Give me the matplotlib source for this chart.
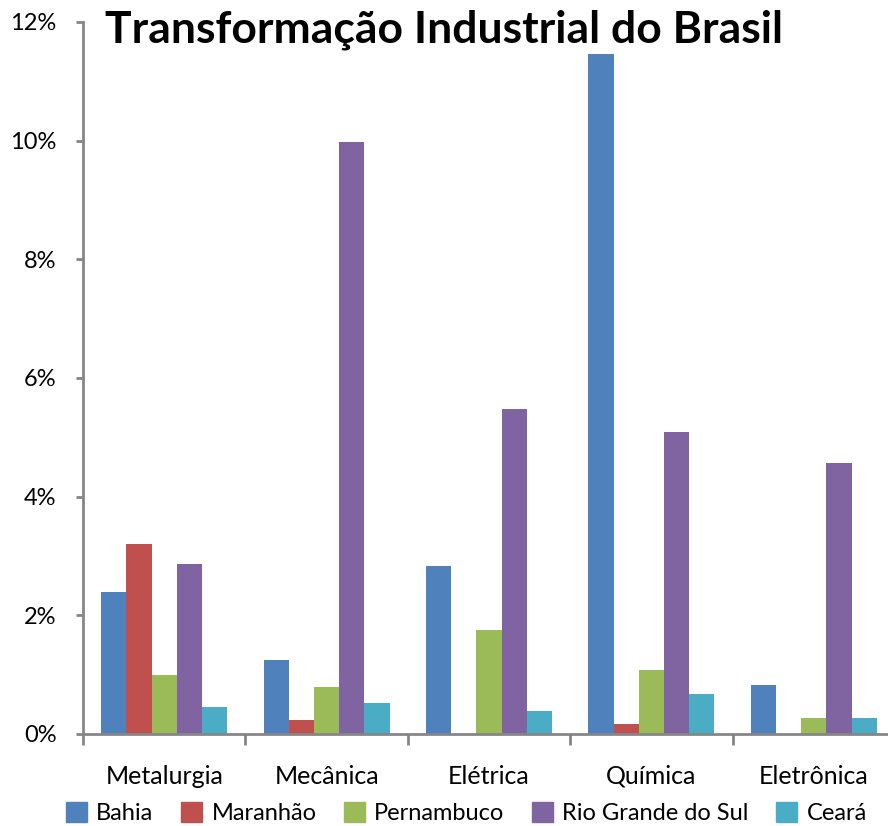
import matplotlib
matplotlib.use("Agg")
import matplotlib.pyplot as plt
import numpy as np
from matplotlib.patches import Patch

plt.rcParams['font.family'] = ['Lato', 'DejaVu Sans']

categories = ["Metalurgia", "Mecânica", "Elétrica", "Química", "Eletrônica"]
series_names = ["Bahia", "Maranhão", "Pernambuco", "Rio Grande do Sul", "Ceará"]
bahia = [2.39, 1.24, 2.83, 11.46, 0.83]
maranhao = [3.21, 0.23, 0.0, 0.17, 0.0]
pernambuco = [0.99, 0.79, 1.76, 1.08, 0.27]
rio_grande_do_sul = [2.86, 9.98, 5.48, 5.09, 4.56]
ceara = [0.45, 0.53, 0.38, 0.68, 0.27]
yticks = [0, 2, 4, 6, 8, 10, 12]
title = "Transformação Industrial do Brasil"

series = [bahia, maranhao, pernambuco, rio_grande_do_sul, ceara]
colors = ["#4F81BD", "#C0504D", "#9BBB59", "#8064A2", "#4BACC6"]

W, H = 888, 826
fig = plt.figure(figsize=(W / 100, H / 100), dpi=100)
left, right_px, top_px, bot_px = 83, 895, 22, 734
ax = fig.add_axes([left / W, 1 - bot_px / H, (right_px - left) / W, (bot_px - top_px) / H])

x = np.arange(len(categories))
bw = 0.155
for i, (vals, c) in enumerate(zip(series, colors)):
    ax.bar(x + (i - 2) * bw, vals, width=bw, color=c, label=series_names[i], linewidth=0)

ax.set_xlim(-0.5, len(categories) - 0.5)
ax.set_ylim(0, 12)
ax.set_yticks(yticks)
ax.set_yticklabels([f"{v}%" for v in yticks], fontsize=17)
ax.set_xticks(x)
ax.set_xticklabels(categories, fontsize=18)
ax.set_xticks(np.arange(len(categories) + 1) - 0.5, minor=True)
ax.tick_params(axis='x', which='major', length=0, pad=22)
ax.tick_params(axis='x', which='minor', length=8, width=2, color="#868686", direction='out')
ax.tick_params(axis='y', length=5, width=2, color="#868686", direction='out', pad=14)

for s in ["top", "right"]:
    ax.spines[s].set_visible(False)
for s in ["left", "bottom"]:
    ax.spines[s].set_color("#868686")
    ax.spines[s].set_linewidth(2)

fig.text(105 / W, 1 - 30 / H, title, fontsize=32, fontweight='bold', va='center', ha='left')

handles = [Patch(color=c) for c in colors]
fig.legend(handles, series_names, loc='center', bbox_to_anchor=(0.525, 1 - 813 / H), ncol=5,
           frameon=False, fontsize=17, handlelength=0.9, handleheight=0.9,
           handletextpad=0.4, columnspacing=1.15)

fig.savefig("out.png", dpi=100)
